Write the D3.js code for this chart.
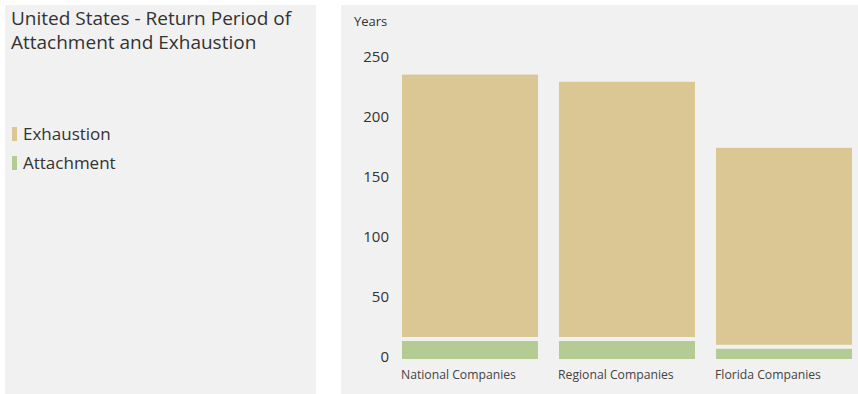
<!DOCTYPE html>
<html>
<head>
<meta charset="utf-8">
<script src="https://cdn.jsdelivr.net/npm/d3@7/dist/d3.min.js"></script>
<style>
  html, body { margin: 0; padding: 0; background: #ffffff; }
  svg { display: block; font-family: "Open Sans", "Noto Sans", sans-serif; }
</style>
</head>
<body>
<svg id="chart" width="858" height="394"></svg>
<script>
const categories = ["National Companies", "Regional Companies", "Florida Companies"];
const attachment = [15, 15, 8.5];
const exhaustion = [237, 231, 176];
const yTicks = [0, 50, 100, 150, 200, 250];
const titleLines = ["United States - Return Period of", "Attachment and Exhaustion"];
const seriesNames = ["Exhaustion", "Attachment"];

const colors = { Exhaustion: "#dbc793", Attachment: "#b4cc94" };
const svg = d3.select("#chart");

// panels
svg.append("rect").attr("x", 5).attr("y", 5).attr("width", 311).attr("height", 389).attr("fill", "#f1f1f1");
svg.append("rect").attr("x", 341).attr("y", 5).attr("width", 517).attr("height", 389).attr("fill", "#f1f1f1");

// title
const title = svg.append("text").attr("x", 11).attr("y", 25)
  .attr("font-size", 19).attr("fill", "#333");
titleLines.forEach((t, i) => {
  title.append("tspan").attr("x", 11).attr("dy", i === 0 ? 0 : 24).text(t);
});

// legend
const legend = svg.append("g");
seriesNames.forEach((name, i) => {
  const g = legend.append("g").attr("transform", `translate(0, ${127 + i * 29})`);
  g.append("rect").attr("x", 12).attr("y", 0).attr("width", 5).attr("height", 14).attr("fill", colors[name]);
  g.append("text").attr("x", 23).attr("y", 13).attr("font-size", 17).attr("fill", "#333").text(name);
});

// scales
const x = d3.scaleBand().domain(categories).range([402, 852]).paddingInner(0.134).paddingOuter(0);
const y = d3.scaleLinear().domain([0, 250]).range([359, 59]);

// y axis label
svg.append("text").attr("x", 354).attr("y", 26).attr("font-size", 13).attr("fill", "#333").text("Years");

// y axis
const yAxis = svg.append("g").attr("transform", "translate(389,0)")
  .call(d3.axisLeft(y).tickValues(yTicks).tickSize(0).tickPadding(0));
yAxis.select(".domain").remove();
yAxis.selectAll("text").attr("font-size", 15).attr("fill", "#333")
  .attr("font-family", "'Open Sans', 'Noto Sans', sans-serif").attr("y", -2).attr("dy", "0.32em");

// bars
const data = categories.map((c, i) => ({ c, a: attachment[i], e: exhaustion[i] }));
const gap = 4;
svg.append("g").selectAll("rect").data(data).join("rect")
  .attr("x", d => x(d.c)).attr("width", x.bandwidth())
  .attr("y", d => y(d.a)).attr("height", d => y(0) - y(d.a))
  .attr("fill", colors.Attachment);
svg.append("g").selectAll("rect").data(data).join("rect")
  .attr("x", d => x(d.c)).attr("width", x.bandwidth())
  .attr("y", d => y(d.e)).attr("height", d => y(d.a) - gap - y(d.e))
  .attr("fill", colors.Exhaustion);

// x axis labels
const xAxis = svg.append("g").attr("transform", "translate(0,359)")
  .call(d3.axisBottom(x).tickSize(0).tickPadding(0));
xAxis.select(".domain").remove();
xAxis.selectAll(".tick").attr("transform", d => `translate(${x(d) - 1},0)`);
xAxis.selectAll("text").attr("text-anchor", "start").attr("y", 20).attr("dy", 0)
  .attr("font-size", 12.2).attr("fill", "#444")
  .attr("font-family", "'Open Sans', 'Noto Sans', sans-serif");
</script>
</body>
</html>
